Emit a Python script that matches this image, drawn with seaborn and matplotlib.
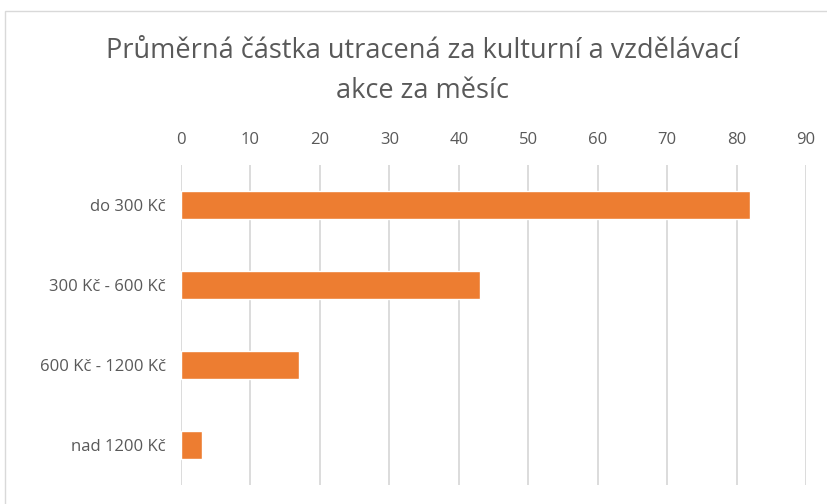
import matplotlib
matplotlib.use("Agg")
import matplotlib.pyplot as plt
import seaborn as sns
import pandas as pd
from matplotlib.patches import Rectangle

categories = ["do 300 Kč", "300 Kč - 600 Kč", "600 Kč - 1200 Kč", "nad 1200 Kč"]
values = [82, 43, 17, 3]
x_ticks = [0, 10, 20, 30, 40, 50, 60, 70, 80, 90]
title = "Průměrná částka utracená za kulturní a vzdělávací\nakce za měsíc"

df = pd.DataFrame({"kategorie": categories, "hodnota": values})

sns.set_style("white")
plt.rcParams["font.family"] = ["Open Sans", "DejaVu Sans"]

fig = plt.figure(figsize=(8.27, 5.04), dpi=100)
ax = fig.add_axes([181 / 827, 19 / 504, 625 / 827, 320 / 504])

sns.barplot(data=df, x="hodnota", y="kategorie", orient="h", color="#ED7D31",
            width=0.35, saturation=1, ax=ax)

ax.set_xlim(0, 90)
ax.set_xticks(x_ticks)
ax.xaxis.tick_top()
ax.set_xlabel("")
ax.set_ylabel("")
ax.tick_params(axis="x", length=0, pad=12, labelsize=12, labelcolor="#595959")
ax.tick_params(axis="y", length=0, pad=11, labelsize=12, labelcolor="#595959")
ax.grid(axis="x", color="#D9D9D9", linewidth=1.3)
ax.set_axisbelow(True)
for s in ax.spines.values():
    s.set_visible(False)

fig.text(0.511, 0.859, title, ha="center", va="center", fontsize=19.5,
         color="#595959", linespacing=1.55)

# chart border like the original
fig.patches.append(Rectangle((5 / 827, -0.01), 1.0, 1 - 11 / 504 + 0.01,
                             transform=fig.transFigure, fill=False,
                             edgecolor="#D9D9D9", linewidth=1))

fig.savefig("out.png", dpi=100)
